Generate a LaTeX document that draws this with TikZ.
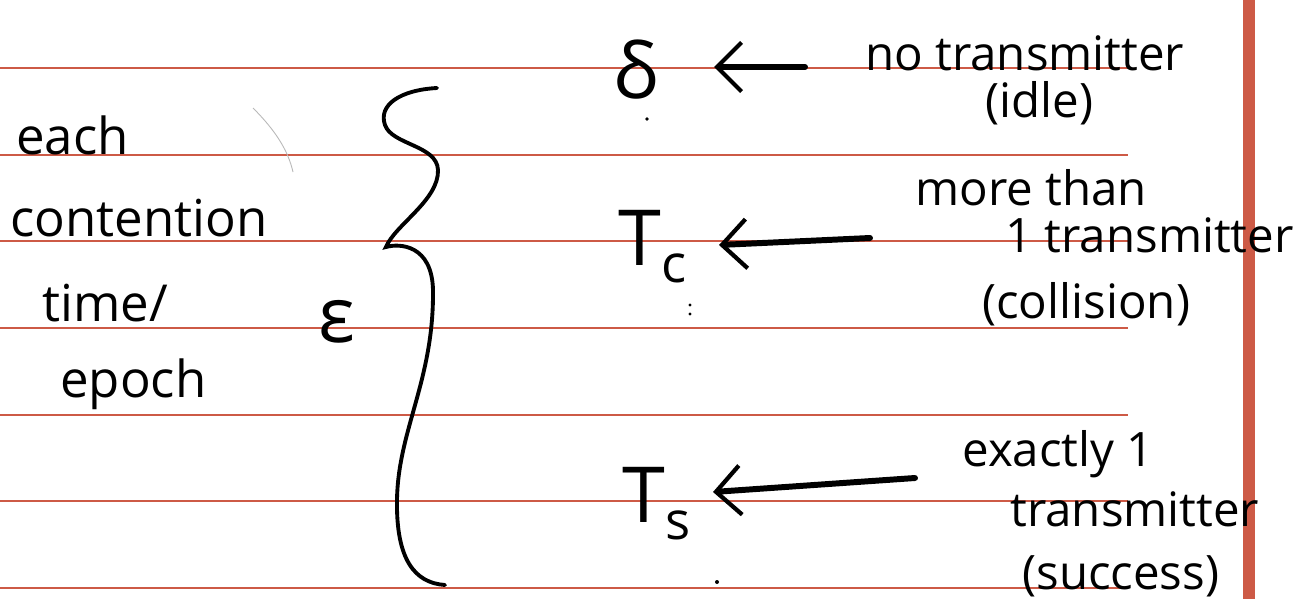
\documentclass[tikz,border=0pt]{standalone}
\usepackage{fontspec}
\setmainfont{Open Sans}
\usetikzlibrary{arrows.meta}
\definecolor{rule}{RGB}{205,90,70}
\tikzset{
  hw/.style={font=\fontsize{27}{31}\selectfont, inner sep=0pt, text=black},
  hwl/.style={hw, anchor=base west},
  hwleft/.style={font=\fontsize{29}{33}\selectfont, inner sep=0pt, anchor=base west},
  sym/.style={font=\fontsize{44}{50}\selectfont, inner sep=0pt},
  arr/.style={line width=3.4pt, black, line cap=round, -{Straight Barb[length=14pt,width=28pt,line width=2.4pt]}},
  ruled/.style={rule, line width=1.2pt},
  brace/.style={black, line width=2.2pt, line cap=round},
}
\begin{document}
\begin{tikzpicture}[x=0.02cm,y=-0.02cm]
\useasboundingbox (0,0) rectangle (1306,599);
\fill[white] (0,0) rectangle (1306,599);
% ruled lines
\foreach \yy in {68,155,241,328,415,501,588}
  \draw[ruled] (0,\yy) -- (1128,\yy);
\fill[rule] (1243,0) rectangle (1255,599);
% stray marks
\draw[gray!55, line width=0.5pt] (253,108) .. controls (275,130) and (288,150) .. (293,172);
\fill (647,119) circle (1.8);
\fill (690,305) circle (1.6);
\fill (690,314) circle (1.6);
\fill (717,582) circle (2);
% left text
\node[hwleft] (each) at (16,154) {each};
\node[hwleft] (cont) at (10,236) {contention};
\node[hwleft] (time) at (42,321) {time/};
\node[hwleft] (epoch) at (60,397) {epoch};
\node[sym] (eps) at (337,322) {ε};
% brace
\draw[brace] (437,88) .. controls (400,90) and (378,105) .. (385,125)
  .. controls (392,145) and (437,145) .. (438,170)
  .. controls (439,200) and (395,225) .. (386,247)
  .. controls (400,243) and (432,245) .. (433,290)
  .. controls (434,380) and (398,430) .. (397,500)
  .. controls (396,560) and (415,583) .. (445,585);
% symbols
\node[sym] (delta) at (636,70) {δ};
\node[sym, anchor=base west] (Tc) at (618,265) {T\raisebox{-10pt}{\fontsize{30}{34}\selectfont c}};
\node[sym, anchor=base west] (Ts) at (622,522) {T\raisebox{-10pt}{\fontsize{30}{34}\selectfont s}};
% arrows
\coordinate (a1s) at (805,67);  \coordinate (a1e) at (714,67);
\coordinate (a2s) at (870,238); \coordinate (a2e) at (719,245);
\coordinate (a3s) at (915,478); \coordinate (a3e) at (713,492);
\draw[arr] (a1s) -- (a1e);
\draw[arr] (a2s) -- (a2e);
\draw[arr] (a3s) -- (a3e);
% right labels
\node[hwl] (notx) at (865,70) {no transmitter};
\node[hwl] (idle) at (985,117) {(idle)};
\node[hwl] (more) at (915,205) {more than};
\node[hwl] (onetx) at (1005,252) {1 transmitter};
\node[hwl] (coll) at (982,318) {(collision)};
\node[hwl] (exact) at (962,466) {exactly 1};
\node[hwl] (tx) at (1010,526) {transmitter};
\node[hwl] (succ) at (1022,589) {(success)};
\end{tikzpicture}
\end{document}
